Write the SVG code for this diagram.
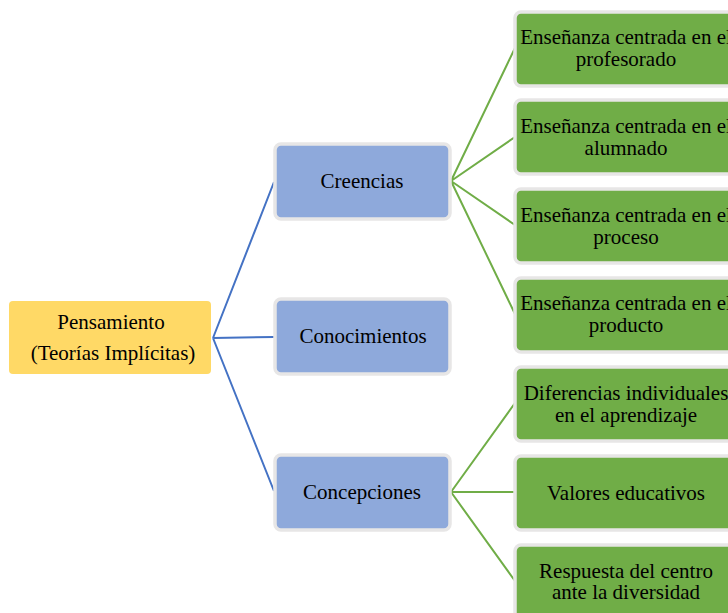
<svg xmlns="http://www.w3.org/2000/svg" width="728" height="613" viewBox="0 0 728 613">
<style>
text{font-family:"Liberation Serif","Times New Roman","DejaVu Serif",serif;font-size:21px;fill:#000;text-anchor:middle}
.root{fill:#FFD966}
.mid{fill:#8EA9DB;stroke:#E7E6E6;stroke-width:3.5}
.leaf{fill:#70AD47;stroke:#E7E6E6;stroke-width:3.5}
.cb{stroke:#4472C4;stroke-width:2;fill:none}
.cg{stroke:#70AD47;stroke-width:2;fill:none}
</style>
<rect width="728" height="613" fill="#fff"/>
<g id="connectors">
<path class="cb" d="M213 338L274 182M213 338L274 337M213 338L274 491"/>
<path class="cg" d="M451 181L515 48M451 181L515 137M451 181L515 225M451 181L515 314"/>
<path class="cg" d="M451 492L515 403M451 492L515 492M451 492L515 581"/>
</g>
<g id="pensamiento" font-family="Liberation Serif, serif">
<rect class="root" x="9" y="301" width="202" height="73" rx="4"/>
<text x="111" y="329">Pensamiento</text>
<text x="113" y="360">(Teorías Implícitas)</text>
</g>
<g id="creencias">
<rect class="mid" x="275" y="144" width="175" height="75" rx="6"/>
<text x="362" y="188">Creencias</text>
</g>
<g id="conocimientos">
<rect class="mid" x="275" y="299" width="175" height="75" rx="6"/>
<text x="363" y="343">Conocimientos</text>
</g>
<g id="concepciones">
<rect class="mid" x="275" y="455" width="175" height="75" rx="6"/>
<text x="362" y="499">Concepciones</text>
</g>
<g id="leaf1">
<rect class="leaf" x="515" y="12" width="224" height="74" rx="6"/>
<text x="626" y="44">Enseñanza centrada en el</text>
<text x="626" y="66">profesorado</text>
</g>
<g id="leaf2">
<rect class="leaf" x="515" y="100" width="224" height="74" rx="6"/>
<text x="626" y="133">Enseñanza centrada en el</text>
<text x="626" y="155">alumnado</text>
</g>
<g id="leaf3">
<rect class="leaf" x="515" y="189" width="224" height="74" rx="6"/>
<text x="626" y="222">Enseñanza centrada en el</text>
<text x="626" y="244">proceso</text>
</g>
<g id="leaf4">
<rect class="leaf" x="515" y="278" width="224" height="74" rx="6"/>
<text x="626" y="310">Enseñanza centrada en el</text>
<text x="626" y="332">producto</text>
</g>
<g id="leaf5">
<rect class="leaf" x="515" y="367" width="224" height="74" rx="6"/>
<text x="626" y="400">Diferencias individuales</text>
<text x="626" y="422">en el aprendizaje</text>
</g>
<g id="leaf6">
<rect class="leaf" x="515" y="456" width="224" height="74" rx="6"/>
<text x="626" y="500">Valores educativos</text>
</g>
<g id="leaf7">
<rect class="leaf" x="515" y="545" width="224" height="74" rx="6"/>
<text x="626" y="578">Respuesta del centro</text>
<text x="626" y="599">ante la diversidad</text>
</g>
</svg>
